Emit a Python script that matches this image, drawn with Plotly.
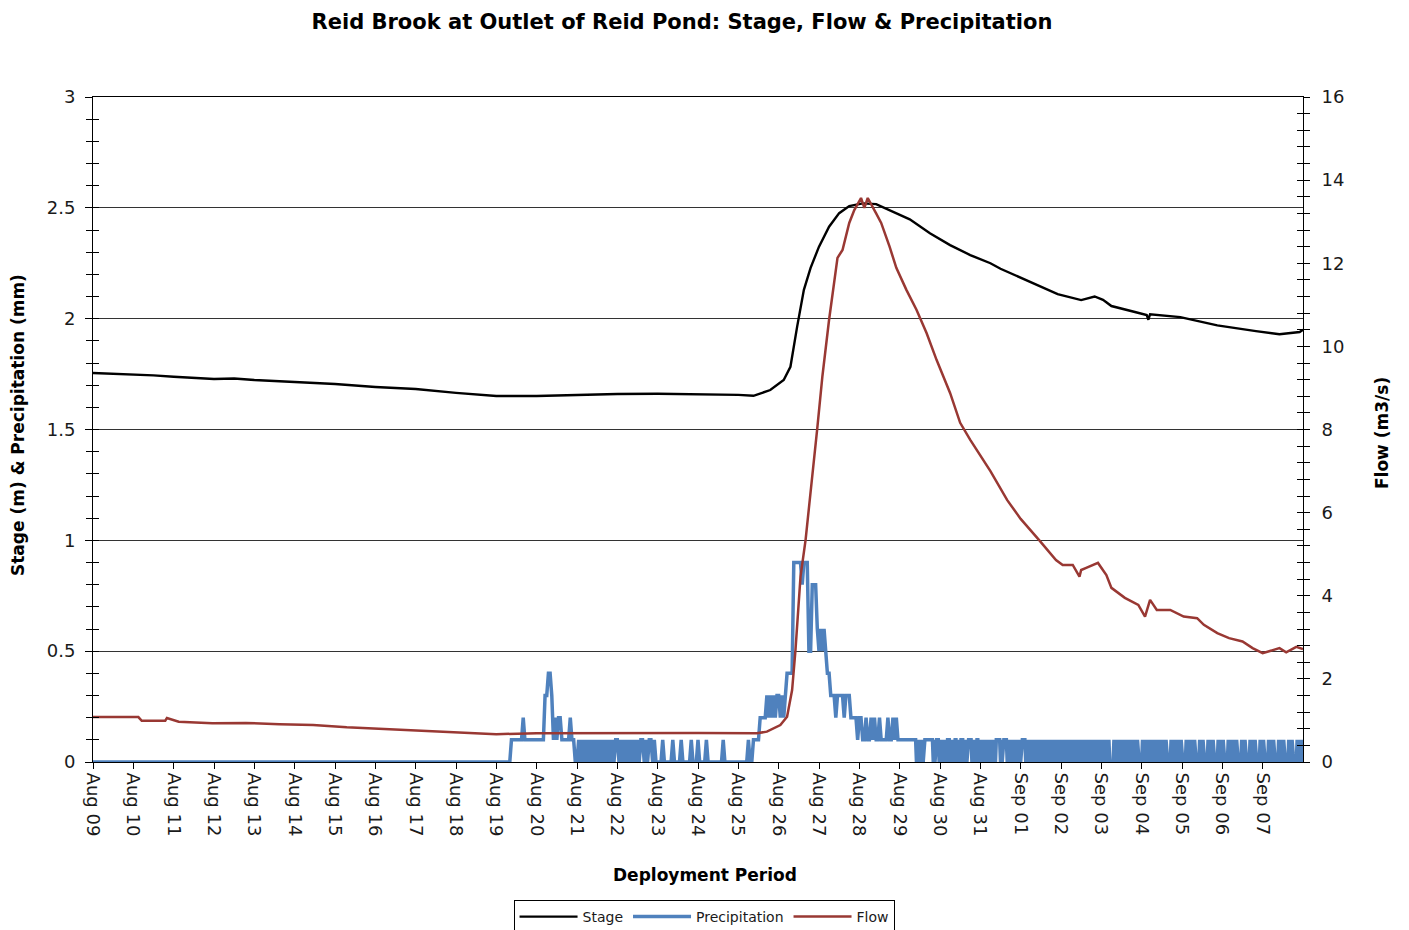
import pandas as pd
import plotly.graph_objects as go

# ---------------- data ----------------
YEAR = "2021"

stage_times = [
    "08-09 00:00", "08-09 12:00", "08-10 00:00", "08-10 12:00", "08-11 00:00", "08-11 12:00",
    "08-12 00:00", "08-12 12:00", "08-13 00:00", "08-14 00:00", "08-15 00:00", "08-16 00:00",
    "08-17 00:00", "08-18 00:00", "08-19 00:00", "08-20 00:00", "08-21 00:00", "08-22 00:00",
    "08-23 00:00", "08-24 00:00", "08-25 00:00", "08-25 09:00", "08-25 19:00", "08-26 03:00",
    "08-26 07:00", "08-26 11:00", "08-26 15:00", "08-26 19:00", "08-27 00:00", "08-27 06:00",
    "08-27 12:00", "08-27 18:00", "08-28 02:00", "08-28 10:00", "08-28 18:00", "08-29 06:00",
    "08-29 18:00", "08-30 06:00", "08-30 18:00", "08-31 06:00", "08-31 12:00", "09-01 07:00",
    "09-01 22:00", "09-02 12:00", "09-02 20:00", "09-03 01:00", "09-03 06:00", "09-03 20:00",
    "09-04 03:00", "09-04 04:00", "09-04 05:00", "09-04 23:00", "09-05 21:00", "09-06 20:00",
    "09-07 10:00", "09-07 22:00", "09-08 00:00",
]
stage_values = [
    1.755, 1.752, 1.746, 1.744, 1.738, 1.733,
    1.728, 1.730, 1.723, 1.714, 1.705, 1.692,
    1.683, 1.665, 1.651, 1.651, 1.656, 1.660,
    1.661, 1.660, 1.656, 1.652, 1.678, 1.723,
    1.783, 1.964, 2.130, 2.229, 2.325, 2.415,
    2.476, 2.508, 2.520, 2.517, 2.490, 2.448,
    2.385, 2.332, 2.287, 2.250, 2.225, 2.160,
    2.111, 2.084, 2.100, 2.085, 2.057, 2.030,
    2.016, 1.995, 2.020, 2.007, 1.970, 1.944,
    1.930, 1.940, 1.950,
]

flow_times = [
    "08-09 00:00", "08-09 18:00", "08-10 03:00", "08-10 05:00", "08-10 19:00", "08-10 20:00",
    "08-11 03:00", "08-11 23:00", "08-12 19:00", "08-13 15:00", "08-14 11:00", "08-15 07:00",
    "08-16 03:00", "08-16 22:00", "08-17 19:00", "08-18 14:00", "08-19 00:00", "08-20 00:00",
    "08-22 00:00", "08-24 00:00", "08-25 11:00", "08-25 17:00", "08-26 01:00", "08-26 05:00",
    "08-26 08:00", "08-26 10:00", "08-26 13:00", "08-26 16:00", "08-26 23:00", "08-27 02:00",
    "08-27 06:00", "08-27 11:00", "08-27 14:00", "08-27 18:00", "08-27 21:00", "08-28 01:00",
    "08-28 03:00", "08-28 05:00", "08-28 10:00", "08-28 13:00", "08-28 18:00", "08-28 22:00",
    "08-29 04:00", "08-29 10:00", "08-29 16:00", "08-29 22:00", "08-30 06:00", "08-30 12:00",
    "08-30 18:00", "08-31 06:00", "08-31 16:00", "09-01 00:00", "09-01 11:00", "09-01 21:00",
    "09-02 01:00", "09-02 07:00", "09-02 11:00", "09-02 12:00", "09-02 15:00", "09-02 22:00",
    "09-03 03:00", "09-03 06:00", "09-03 14:00", "09-03 22:00", "09-04 02:00", "09-04 05:00",
    "09-04 09:00", "09-04 17:00", "09-05 01:00", "09-05 09:00", "09-05 13:00", "09-05 21:00",
    "09-06 04:00", "09-06 12:00", "09-06 18:00", "09-07 00:00", "09-07 10:00", "09-07 14:00",
    "09-07 20:00", "09-08 00:00",
]
flow_values = [
    1.08, 1.075, 1.08, 0.99, 0.994, 1.06,
    0.97, 0.93, 0.94, 0.906, 0.89, 0.834,
    0.794, 0.754, 0.73, 0.68, 0.67, 0.69,
    0.70, 0.70, 0.69, 0.73, 0.89, 1.09,
    1.73, 2.69, 4.46, 5.34, 8.04, 9.27,
    10.64, 12.13, 12.32, 12.97, 13.28, 13.57,
    13.33, 13.57, 13.20, 12.97, 12.40, 11.89,
    11.36, 10.88, 10.32, 9.67, 8.88, 8.16,
    7.75, 7.00, 6.30, 5.85, 5.34, 4.86,
    4.74, 4.74, 4.46, 4.62, 4.67, 4.79,
    4.50, 4.19, 3.95, 3.78, 3.50, 3.90,
    3.66, 3.66, 3.50, 3.46, 3.30, 3.10,
    2.98, 2.90, 2.74, 2.62, 2.74, 2.64,
    2.77, 2.72,
]

# precipitation in tenths of mm, one string per day (Aug 09 .. Sep 07);
# 24 characters = hourly readings, 48 characters = half-hourly readings
precip_days = [
    "000000000000000000000000",  # Aug 09
    "000000000000000000000000",  # Aug 10
    "000000000000000000000000",  # Aug 11
    "000000000000000000000000",  # Aug 12
    "000000000000000000000000",  # Aug 13
    "000000000000000000000000",  # Aug 14
    "000000000000000000000000",  # Aug 15
    "000000000000000000000000",  # Aug 16
    "000000000000000000000000",  # Aug 17
    "000000000000000000000000",  # Aug 18
    "000000000111111121111111",  # Aug 19
    "111113344312122111112110",  # Aug 20
    "010101010101010101010101",  # Aug 21
    "101010101010101101011010",  # Aug 22
    "000100000100001000001000",  # Aug 23
    "100001000000000100000000",  # Aug 24
    "000000100111122223232323",  # Aug 25
    "323234444999998999558886",  # Aug 26
    "565654433323333233322221",  # Aug 27
    "221121121211211112112121",  # Aug 28
    "11111111111111111111" "0101010101" "1111111111" "01011110",                          # Aug 29
    "0101010101" "11" "010101" "11" "010101" "11" "010101" "1111" "010101" "11" "01",       # Aug 30
    "01010101010101010101" "1111" "0101" "1111" "0101010101010101",                       # Aug 31
    "01" "1111" "010101010101010101010101010101010101010101",                             # Sep 01
    "010101010101010101010101010101010101010101010101",                                   # Sep 02
    "0101010101" "0000" "010101010101010101010101010101" "0000",                          # Sep 03
    "010101010101010101010101010101" "0000" "01010101010101",                             # Sep 04
    "0000" "010101010101" "0000" "010101" "0000" "01010101" "0000" "010101",              # Sep 05
    "01" "0000" "010101010101" "0000" "010101" "0000" "01010101" "0000" "0101",           # Sep 06
    "01" "0000" "01010101" "0000" "01010101" "0000" "010101" "0000" "01010101",           # Sep 07
]

x_start = YEAR + "-08-09"
x_end = YEAR + "-09-08"

# ---------------- build traces ----------------
stage_x = pd.to_datetime([YEAR + "-" + t for t in stage_times])
flow_x = pd.to_datetime([YEAR + "-" + t for t in flow_times])
day_starts = pd.date_range(start=x_start, periods=len(precip_days), freq="D")
precip_x, precip_vals = [], []
for d0, day in zip(day_starts, precip_days):
    step = pd.Timedelta(hours=24 / len(day))
    for k, c in enumerate(day):
        precip_x.append(d0 + k * step)
        precip_vals.append(int(c) / 10)

tick_dates = pd.date_range(start=x_start, end=YEAR + "-09-07", freq="D")

FONT = "DejaVu Sans, Verdana, sans-serif"
TXT = "#1a1a1a"
GRID = "#333333"

fig = go.Figure()
fig.add_trace(go.Scatter(x=stage_x, y=stage_values, name="Stage", mode="lines",
                         line=dict(color="#000000", width=2.4), yaxis="y"))
fig.add_trace(go.Scatter(x=precip_x, y=precip_vals, name="Precipitation", mode="lines",
                         line=dict(color="#4F81BD", width=3.5), yaxis="y"))
fig.add_trace(go.Scatter(x=flow_x, y=flow_values, name="Flow", mode="lines",
                         line=dict(color="#993833", width=2.5), yaxis="y2"))

fig.update_layout(
    width=1409, height=930,
    margin=dict(l=93, r=106, t=97, b=168, autoexpand=False),
    paper_bgcolor="white", plot_bgcolor="white",
    font=dict(family=FONT, color=TXT),
    showlegend=True,
    title=dict(text="Reid Brook at Outlet of Reid Pond: Stage, Flow & Precipitation",
               x=0.484, xref="container", xanchor="center",
               y=1 - 22 / 930, yref="container", yanchor="middle",
               font=dict(family=FONT, size=21, color="#000000", weight="bold")),
    xaxis=dict(
        type="date", range=[x_start, x_end], tickmode="array", tickvals=tick_dates,
        tickformat="%b %d", tickangle=90, ticks="outside", ticklen=6, tickcolor="#000",
        showline=True, linecolor="#000", linewidth=1, mirror=True,
        showgrid=False, zeroline=False, tickfont=dict(size=18, color=TXT),
    ),
    yaxis=dict(
        range=[0, 3], dtick=0.5, tick0=0, ticks="outside", ticklen=7, tickcolor="#000",
        showline=True, linecolor="#000", linewidth=1,
        showgrid=True, gridcolor=GRID, gridwidth=1, zeroline=False,
        tickfont=dict(size=18, color=TXT), ticklabelstandoff=6,
        minor=dict(dtick=0.1, ticks="outside", ticklen=6, tickcolor="#000", showgrid=False),
    ),
    yaxis3=dict(
        range=[0, 3], overlaying="y", side="left", anchor="x",
        showticklabels=False, ticks="inside", ticklen=6, dtick=0.1, tick0=0, tickcolor="#000",
        showgrid=False, zeroline=False, showline=False,
    ),
    yaxis2=dict(
        range=[0, 16], dtick=2, tick0=0, overlaying="y", side="right", anchor="x",
        ticks="outside", ticklen=6, tickcolor="#000",
        showline=True, linecolor="#000", linewidth=1,
        showgrid=False, zeroline=False,
        tickfont=dict(size=18, color=TXT), ticklabelstandoff=8,
        minor=dict(dtick=0.4, ticks="outside", ticklen=6, tickcolor="#000", showgrid=False),
    ),
    yaxis4=dict(
        range=[0, 16], overlaying="y", side="right", anchor="x",
        showticklabels=False, ticks="inside", ticklen=6, dtick=0.4, tick0=0, tickcolor="#000",
        showgrid=False, zeroline=False, showline=False,
    ),
    legend=dict(
        orientation="h", x=0.505, xanchor="center", y=-(900 - 762) / 665, yanchor="top",
        bordercolor="#000", borderwidth=1, bgcolor="white",
        itemwidth=58,
        font=dict(family=FONT, size=14, color=TXT), traceorder="normal",
    ),
    annotations=[
        dict(text="Stage (m) & Precipitation (mm)", xref="paper", yref="paper",
             x=(18 - 93) / 1210, y=(762 - 425) / 665, xanchor="center", yanchor="middle",
             textangle=-90, showarrow=False,
             font=dict(family=FONT, size=17, color="#000", weight="bold")),
        dict(text="Flow (m3/s)", xref="paper", yref="paper",
             x=(1382 - 93) / 1210, y=(762 - 433) / 665, xanchor="center", yanchor="middle",
             textangle=-90, showarrow=False,
             font=dict(family=FONT, size=17, color="#000", weight="bold")),
        dict(text="Deployment Period", xref="paper", yref="paper",
             x=(705 - 93) / 1210, y=(762 - 875) / 665, xanchor="center", yanchor="middle",
             showarrow=False,
             font=dict(family=FONT, size=17, color="#000", weight="bold")),
    ],
)

# invisible traces so the tick-only overlay axes are always drawn
fig.add_trace(go.Scatter(x=[x_start], y=[0], yaxis="y3", showlegend=False, hoverinfo="skip",
                         mode="markers", marker=dict(opacity=0)))
fig.add_trace(go.Scatter(x=[x_start], y=[0], yaxis="y4", showlegend=False, hoverinfo="skip",
                         mode="markers", marker=dict(opacity=0)))

fig.write_html("out.html")
